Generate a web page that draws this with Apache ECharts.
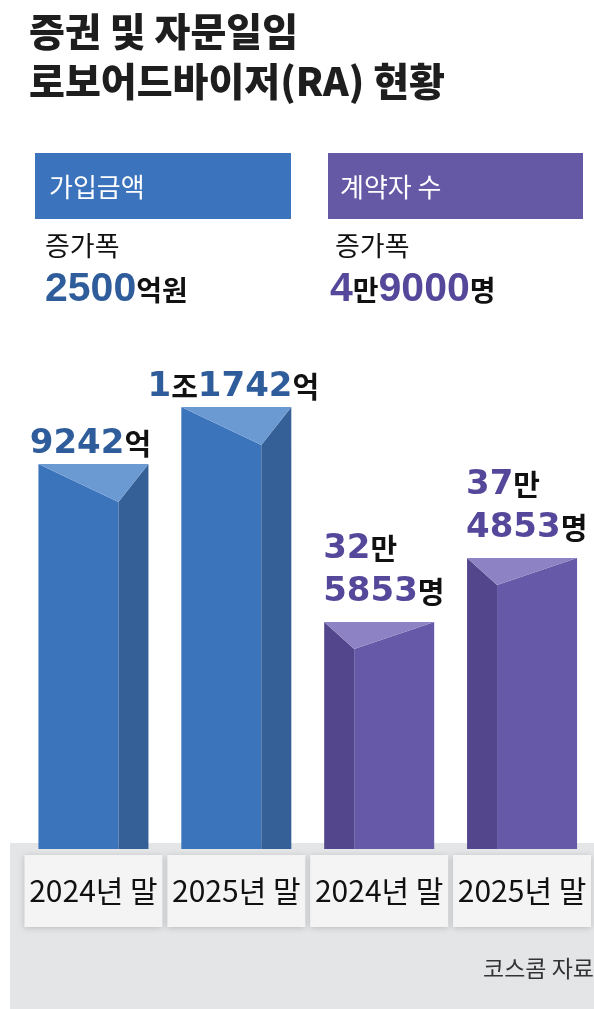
<!DOCTYPE html>
<html>
<head>
<meta charset="utf-8">
<script src="https://cdn.jsdelivr.net/npm/echarts@6/dist/echarts.min.js"></script>
<style>
  html, body { margin: 0; padding: 0; background: #fff; }
  #chart { width: 594px; height: 1009px; }
</style>
</head>
<body>
<div id="chart"></div>
<script>
const titleLines = ["증권 및 자문일임", "로보어드바이저(RA) 현황"];
const categories = ["2024년 말", "2025년 말", "2024년 말", "2025년 말"];
const seriesNames = ["가입금액", "계약자 수"];
const amountIndex = [0, 1];
const amountValues = [9242, 11742]; // 억원
const countIndex = [2, 3];
const countValues = [325853, 374853]; // 명
const sourceText = "코스콤 자료";

const KR = "'Noto Sans CJK KR', sans-serif";
const BLUE = { front: "#3c74bc", side: "#345f97", top: "#6b9ad2", text: "#2f5c9a", box: "#3b74bc" };
const PURPLE = { front: "#665aa8", side: "#54468c", top: "#8d83c4", text: "#55479a", box: "#6559a6" };

// 9242 -> 9242억, 11742 -> 1조1742억
function fmtAmount(v, unit) {
  let s = "";
  if (v >= 10000) s += "{n|" + Math.floor(v / 10000) + "}{u|조}";
  return s + "{n|" + (v % 10000) + "}{u|" + unit + "}";
}
// 325853 -> 32만 5853명
function fmtCount(v, sep) {
  return "{n|" + Math.floor(v / 10000) + "}{u|만}" + sep + "{n|" + (v % 10000) + "}{u|명}";
}

function richStyle(color, size, unitSize, lh) {
  return {
    n: { fontFamily: "'DejaVu Sans', sans-serif", fontWeight: "bold", fontSize: size, fill: color, lineHeight: lh },
    u: { fontFamily: KR, fontWeight: "bold", fontSize: unitSize, fill: "#111", lineHeight: lh }
  };
}

function makeRender(sideLeft, depth, col) {
  return function (params, api) {
    const x = api.value(0), v = api.value(1);
    const p = api.coord([x, v]);
    const cs = params.coordSys;
    const B = cs.y + cs.height;
    const w = api.size([1, 0])[0] * 0.77;
    const L = p[0] - w / 2, R = p[0] + w / 2, T = p[1];
    const sw = 30;
    let front, side, top, label;
    if (!sideLeft) {
      const S = R - sw;
      front = [[L, T], [S, T + depth], [S, B], [L, B]];
      side = [[S, T + depth], [R, T], [R, B], [S, B]];
      top = [[L, T], [R, T], [S, T + depth]];
      label = {
        type: "text",
        style: {
          text: fmtAmount(v, "억"), rich: richStyle(col.text, 34, 29, 36),
          x: p[0] - 3, y: T - 2, align: "center", verticalAlign: "bottom"
        }
      };
    } else {
      const S = L + sw;
      side = [[L, T], [S, T + depth], [S, B], [L, B]];
      front = [[S, T + depth], [R, T], [R, B], [S, B]];
      top = [[L, T], [R, T], [S, T + depth]];
      label = {
        type: "text",
        style: {
          text: fmtCount(v, "\n"), rich: richStyle(col.text, 34, 29, 43),
          x: L - 1, y: T - 8, align: "left", verticalAlign: "bottom"
        }
      };
    }
    return {
      type: "group",
      children: [
        { type: "polygon", shape: { points: front }, style: { fill: col.front } },
        { type: "polygon", shape: { points: side }, style: { fill: col.side } },
        { type: "polygon", shape: { points: top }, style: { fill: col.top } },
        label
      ]
    };
  };
}

const chart = echarts.init(document.getElementById("chart"));

const amountDiff = amountValues[1] - amountValues[0];
const countDiff = countValues[1] - countValues[0];

const option = {
  backgroundColor: "#fff",
  animation: false,
  title: {
    text: titleLines.join("\n"),
    left: 24, top: 1,
    textStyle: { fontFamily: KR, fontWeight: 900, fontSize: 39, lineHeight: 50, color: "#1e1e1e" }
  },
  graphic: [
    { type: "rect", z: -10, shape: { x: 10, y: 843, width: 584, height: 166 }, style: { fill: "#e4e5e7" } },
    { type: "rect", shape: { x: 35, y: 153, width: 256, height: 66 }, style: { fill: BLUE.box } },
    { type: "text", style: { text: seriesNames[0], x: 49, y: 187, verticalAlign: "middle", fill: "#fff", fontFamily: KR, fontSize: 26 } },
    { type: "rect", shape: { x: 328, y: 153, width: 255, height: 66 }, style: { fill: PURPLE.box } },
    { type: "text", style: { text: seriesNames[1], x: 340, y: 187, verticalAlign: "middle", fill: "#fff", fontFamily: KR, fontSize: 26 } },
    { type: "text", style: { text: "증가폭", x: 45, y: 246, verticalAlign: "middle", fill: "#111", fontFamily: KR, fontSize: 27 } },
    { type: "text", style: { text: "증가폭", x: 335, y: 246, verticalAlign: "middle", fill: "#111", fontFamily: KR, fontSize: 27 } },
    {
      type: "text",
      style: {
        text: "{n|" + amountDiff + "}{u|억원}", x: 45, y: 290, verticalAlign: "middle",
        rich: {
          n: { fontFamily: "'Liberation Sans', sans-serif", fontWeight: "bold", fontSize: 41, fill: BLUE.text },
          u: { fontFamily: KR, fontWeight: "bold", fontSize: 28, fill: "#111" }
        }
      }
    },
    {
      type: "text",
      style: {
        text: fmtCount(countDiff, ""), x: 330, y: 290, verticalAlign: "middle",
        rich: {
          n: { fontFamily: "'Liberation Sans', sans-serif", fontWeight: "bold", fontSize: 41, fill: PURPLE.text },
          u: { fontFamily: KR, fontWeight: "bold", fontSize: 28, fill: "#111" }
        }
      }
    },
    { type: "text", style: { text: sourceText, x: 594, y: 968, align: "right", verticalAlign: "middle", fill: "#333", fontFamily: KR, fontSize: 23 } }
  ],
  grid: { left: 22, right: 0, top: 300, bottom: 160 },
  xAxis: {
    type: "category",
    data: categories,
    axisLine: { show: false },
    axisTick: { show: false },
    axisLabel: {
      interval: 0,
      margin: 6,
      fontFamily: KR,
      fontSize: 30,
      color: "#111",
      backgroundColor: "#f4f4f4",
      width: 138,
      height: 72,
      lineHeight: 72,
      align: "center",
      verticalAlign: "top",
      shadowBlur: 6,
      shadowColor: "rgba(0,0,0,0.18)",
      shadowOffsetY: 1
    }
  },
  yAxis: [
    { type: "value", show: false, min: -7650, max: 16430 },
    { type: "value", show: false, min: 152000, max: 572400 }
  ],
  series: [
    {
      name: seriesNames[0],
      type: "custom",
      yAxisIndex: 0,
      renderItem: makeRender(false, 38, BLUE),
      data: amountValues.map((v, i) => [amountIndex[i], v])
    },
    {
      name: seriesNames[1],
      type: "custom",
      yAxisIndex: 1,
      renderItem: makeRender(true, 27, PURPLE),
      data: countValues.map((v, i) => [countIndex[i], v])
    }
  ]
};

option && chart.setOption(option);
</script>
</body>
</html>
